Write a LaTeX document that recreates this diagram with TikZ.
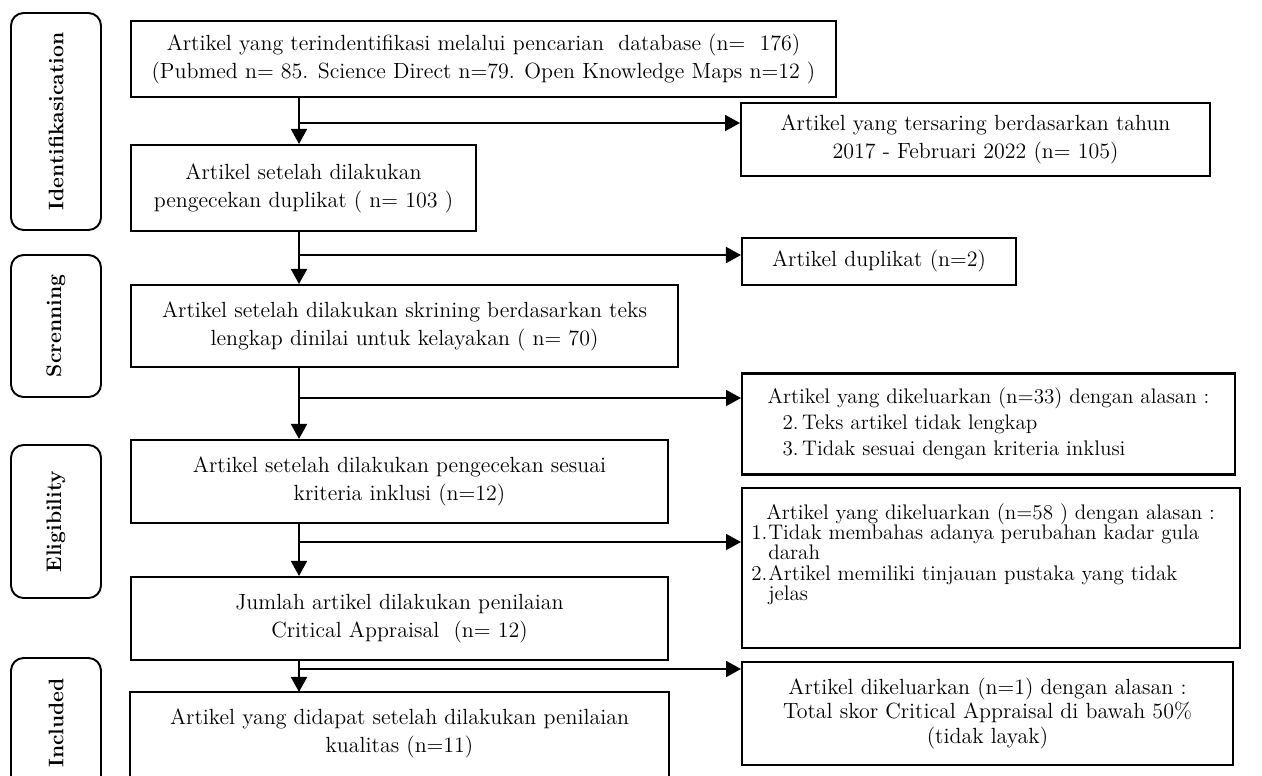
\documentclass[tikz,border=0pt]{standalone}
\usetikzlibrary{arrows.meta}
\begin{document}
\begin{tikzpicture}[
        x=0.02cm, y=-0.02cm,
        every node/.style={font=\fontsize{12.5pt}{16pt}\selectfont},
        mainbox/.style={rectangle, draw, line width=1.2pt, align=center, inner sep=0pt},
        exbox/.style={rectangle, draw, line width=1.2pt, align=center, inner sep=0pt},
        phasebox/.style={rectangle, draw, line width=1.1pt, rounded corners=0.25cm, rotate=90,
            minimum height=1.8cm, font=\fontsize{12pt}{14pt}\selectfont\bfseries},
        arr/.style={line width=1.1pt, -{Triangle[length=0.3cm, width=0.32cm]}},
        ]
        \useasboundingbox (0,0) rectangle (1262,775);

        % Phase labels on the left
        \node[phasebox, minimum width=4.34cm] (ph1) at (56,121.5) {Identifikasication};
        \node[phasebox, minimum width=2.84cm] (ph2) at (56,326) {Screnning};
        \node[phasebox, minimum width=3.06cm] (ph3) at (56,521.5) {Eligibility};
        \node[phasebox, minimum width=2.6cm] (ph4) at (56,723) {Included};

        % Main flow boxes
        \node[mainbox, minimum width=14.1cm, minimum height=1.52cm] (main1) at (483.5,59)
            {Artikel yang terindentifikasi melalui pencarian\ \ database (n=\ \ 176)\\(Pubmed n= 85. Science Direct n=79. Open Knowledge Maps n=12 )};
        \node[mainbox, minimum width=6.9cm, minimum height=1.72cm] (main2) at (303.5,188)
            {Artikel setelah dilakukan\\pengecekan duplikat ( n= 103 )};
        \node[mainbox, minimum width=10.94cm, minimum height=1.64cm] (main3) at (404.5,326)
            {Artikel setelah dilakukan skrining berdasarkan teks\\lengkap dinilai untuk kelayakan ( n= 70)};
        \node[mainbox, minimum width=10.74cm, minimum height=1.66cm] (main4) at (399.5,481.5)
            {Artikel setelah dilakukan pengecekan sesuai\\kriteria inklusi (n=12)};
        \node[mainbox, minimum width=10.74cm, minimum height=1.66cm] (main5) at (399.5,618.5)
            {Jumlah artikel dilakukan penilaian\\Critical Appraisal\ \ (n= 12)};
        % last box runs past the bottom edge
        \node[mainbox, draw=none, minimum width=10.74cm, minimum height=1.6cm] (main6) at (399.5,733)
            {Artikel yang didapat setelah dilakukan penilaian\\kualitas (n=11)};
        \draw[line width=1.2pt] ([yshift=-0.6cm]main6.south west) -- (main6.north west)
            -- (main6.north east) -- ([yshift=-0.6cm]main6.south east);

        % Excluded boxes on the right
        \node[exbox, minimum width=9.38cm, minimum height=1.46cm] (ex1) at (975.5,139.5)
            {Artikel yang tersaring berdasarkan tahun\\2017 - Februari 2022 (n= 105)};
        \node[exbox, minimum width=5.48cm, minimum height=0.94cm] (ex2) at (879,261.5)
            {Artikel duplikat (n=2)};
        \node[exbox, align=left, minimum width=9.86cm, minimum height=2.02cm,
            font=\fontsize{12pt}{14.8pt}\selectfont] (ex3) at (988.5,424)
            {Artikel yang dikeluarkan (n=33) dengan alasan :\\
             \hspace*{0.3cm}2.\,Teks artikel tidak lengkap\\
             \hspace*{0.3cm}3.\,Tidak sesuai dengan kriteria inklusi};
        \node[exbox, minimum width=9.96cm, minimum height=3.2cm] (ex4) at (991,568) {};
        \node[anchor=north west, align=left, inner sep=0pt, font=\fontsize{12pt}{11.6pt}\selectfont]
            (ex4txt) at ([xshift=0.2cm, yshift=-0.32cm]ex4.north west)
            {\hspace*{0.3cm}Artikel yang dikeluarkan (n=58 ) dengan alasan :\\
             \makebox[0.34cm][l]{1.}Tidak membahas adanya perubahan kadar gula\\
             \hspace*{0.34cm}darah\\
             \makebox[0.34cm][l]{2.}Artikel memiliki tinjauan pustaka yang tidak\\
             \hspace*{0.34cm}jelas};
        \node[exbox, minimum width=9.82cm, minimum height=2.06cm,
            font=\fontsize{12.5pt}{14.2pt}\selectfont] (ex5) at (987.5,713.5)
            {Artikel dikeluarkan (n=1) dengan alasan :\\Total skor Critical Appraisal di bawah 50\%\\(tidak layak)};

        % Trunk and branch points
        \coordinate (trunk) at (299,0);
        \coordinate (b1) at (299,123);
        \coordinate (b2) at (299,255);
        \coordinate (b3) at (299,398);
        \coordinate (b4) at (299,542);
        \coordinate (b5) at (299,669);

        % Vertical arrows
        \draw[arr] (main1.south -| trunk) -- (main2.north -| trunk);
        \draw[arr] (main2.south -| trunk) -- (main3.north -| trunk);
        \draw[arr] (main3.south -| trunk) -- (main4.north -| trunk);
        \draw[arr] (main4.south -| trunk) -- (main5.north -| trunk);
        \draw[arr] (main5.south -| trunk) -- (main6.north -| trunk);

        % Horizontal arrows to excluded boxes
        \draw[arr] (b1) -- (b1 -| ex1.west);
        \draw[arr] (b2) -- (b2 -| ex2.west);
        \draw[arr] (b3) -- (b3 -| ex3.west);
        \draw[arr] (b4) -- (b4 -| ex4.west);
        \draw[arr] (b5) -- (b5 -| ex5.west);

    \end{tikzpicture}
\end{document}
